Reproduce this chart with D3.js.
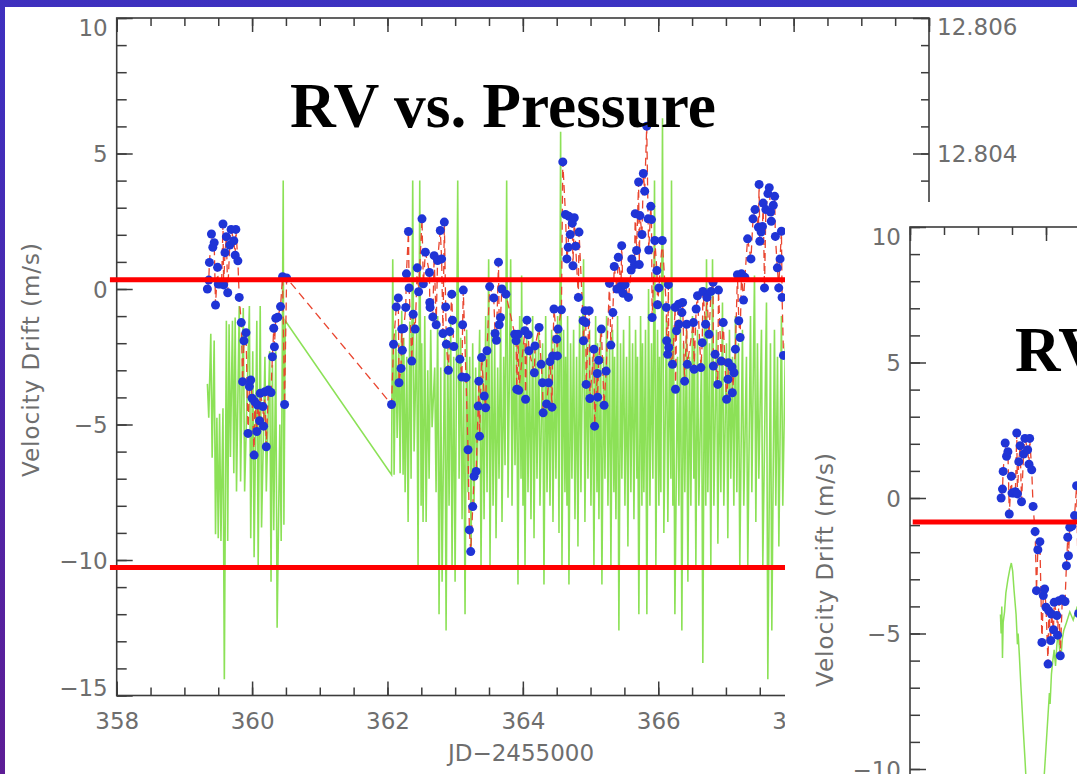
<!DOCTYPE html>
<html>
<head>
<meta charset="utf-8">
<script src="https://cdn.jsdelivr.net/npm/d3@7"></script>
<style>
  html, body { margin: 0; padding: 0; overflow: hidden; background: #3b35c3; }
  svg { display: block; }
</style>
</head>
<body>
<svg id="slide" width="1077" height="774"></svg>
<script>
// ---------------------------------------------------------------
// Radial-velocity drift measurements: [JD-2455000, drift in m/s]
// ---------------------------------------------------------------
const rvDrift = [
  [359.34,0.00],[359.36,0.33],[359.37,0.98],[359.40,2.03],[359.42,1.54],[359.44,1.71],[359.46,-0.59],
  [359.49,0.80],[359.50,0.18],[359.53,0.18],[359.55,0.23],[359.57,2.40],[359.58,0.15],[359.60,1.34],
  [359.62,1.93],[359.64,-0.14],[359.67,1.62],[359.69,2.20],[359.73,1.78],[359.75,1.25],[359.76,2.20],
  [359.79,1.04],[359.81,-0.31],[359.84,-1.24],[359.86,-3.42],[359.88,-1.91],[359.91,-1.61],[359.94,-5.33],
  [359.96,-3.60],[359.98,-3.36],[360.00,-4.03],[360.03,-6.13],[360.04,-4.16],[360.07,-5.26],[360.08,-4.28],
  [360.11,-4.86],[360.12,-3.85],[360.16,-4.34],[360.17,-5.06],[360.19,-3.79],[360.21,-5.82],[360.24,-3.73],
  [360.28,-3.82],[360.30,-2.50],[360.32,-1.45],[360.33,-2.13],[360.35,-1.08],[360.38,-1.04],[360.42,-0.65],
  [360.45,0.45],[360.48,-4.26],[360.51,0.41],
  [362.06,-4.26],[362.09,-2.04],[362.13,-0.66],[362.16,-0.33],[362.17,-3.46],[362.20,-2.93],[362.21,-1.48],
  [362.22,-2.26],[362.24,-1.46],[362.27,-0.68],[362.28,0.56],[362.31,2.12],[362.32,0.04],[362.36,-2.66],
  [362.38,-0.93],[362.41,-1.48],[362.44,0.78],[362.46,-0.10],[362.51,2.59],[362.53,0.19],[362.56,1.36],
  [362.62,0.61],[362.625,-0.50],[362.63,-0.68],[362.67,-1.03],[362.69,1.23],[362.72,-1.32],[362.74,1.05],
  [362.78,2.16],[362.80,1.11],[362.82,-1.64],[362.84,2.47],[362.86,-0.66],[362.87,-2.04],[362.90,-3.00],
  [362.92,-1.57],[362.95,-0.19],[362.96,-1.15],[362.98,-2.12],[363.07,-2.59],[363.10,-3.25],[363.11,-1.32],
  [363.12,-0.04],[363.16,-3.27],[363.19,-5.93],[363.21,-8.89],[363.23,-9.69],[363.26,-8.03],[363.28,-6.91],
  [363.31,-6.73],[363.34,-4.32],[363.35,-3.40],[363.36,-5.43],[363.39,-2.53],[363.43,-3.95],[363.45,-4.38],
  [363.47,-2.28],[363.51,0.09],[363.57,-0.33],[363.59,-1.64],[363.61,-1.89],[363.64,0.99],[363.65,-1.32],
  [363.67,-1.05],[363.69,0.00],[363.75,-0.19],[363.88,-1.67],[363.90,-1.91],[363.91,-3.70],[363.93,-1.67],
  [363.94,-3.74],[364.03,-1.54],[364.04,-4.07],[364.06,-1.15],[364.08,-1.69],[364.09,-2.28],[364.17,-3.09],
  [364.18,-2.10],[364.24,-1.42],[364.27,-2.78],[364.29,-3.46],[364.30,-4.57],[364.35,-4.24],[364.38,-3.46],
  [364.40,-2.68],[364.43,-4.36],[364.44,-2.47],[364.46,-0.74],[364.50,-1.85],[364.51,-2.47],[364.52,-1.48],
  [364.57,-0.77],[364.59,4.69],[364.63,2.75],[364.65,1.11],[364.67,1.54],[364.68,2.68],[364.70,2.01],
  [364.73,2.43],[364.74,0.86],[364.76,2.63],[364.78,1.58],[364.82,-0.31],[364.83,2.10],[364.89,-1.17],
  [364.895,-1.91],[364.92,-0.80],[364.93,-1.24],[364.935,-3.52],[364.98,-0.80],[364.99,-4.04],[365.05,-2.22],
  [365.06,-5.06],[365.10,-3.12],[365.105,-3.99],[365.12,-2.63],[365.16,-1.48],[365.20,-4.29],[365.23,-3.03],
  [365.28,0.21],[365.30,-2.07],[365.33,-0.87],[365.35,0.83],[365.39,0.00],[365.41,1.17],[365.45,0.12],
  [365.46,1.60],[365.48,-0.16],[365.51,0.16],[365.56,-0.31],[365.60,0.70],[365.61,1.11],[365.65,0.90],
  [365.66,2.78],[365.68,1.42],[365.71,3.95],[365.72,0.90],[365.73,2.71],[365.76,2.01],[365.78,4.26],
  [365.80,3.61],[365.83,6.01],[365.85,2.59],[365.86,1.44],[365.89,3.05],[365.90,2.56],[365.91,-1.05],
  [365.95,1.79],[365.98,0.68],[365.99,-0.58],[366.01,0.04],[366.06,1.79],[366.12,-0.68],[366.125,-1.91],
  [366.14,-2.41],[366.15,0.16],[366.155,-2.16],[366.21,-2.78],[366.25,-0.68],[366.255,-3.70],[366.27,-1.54],
  [366.30,-0.56],[366.305,-1.30],[366.35,-0.87],[366.36,-0.50],[366.39,-3.40],[366.42,-1.30],[366.43,-2.78],
  [366.52,-1.24],[366.53,-2.96],[366.56,-0.74],[366.58,-0.25],[366.63,-2.90],[366.65,-1.98],[366.66,-0.09],
  [366.70,-1.30],[366.72,-0.31],[366.75,-1.67],[366.78,-0.09],[366.81,0.25],[366.815,-2.84],[366.84,-2.41],
  [366.88,-3.52],[366.89,-0.04],[366.93,-2.66],[366.96,-1.24],[367.01,-4.07],[367.03,-3.33],[367.035,-2.72],
  [367.09,-2.88],[367.095,-3.83],[367.12,-3.09],[367.14,-2.22],[367.17,0.53],[367.19,-1.17],[367.21,-1.79],
  [367.23,0.56],[367.26,-0.41],[367.28,0.43],[367.32,1.85],[367.37,1.11],[367.40,2.59],[367.43,2.93],
  [367.48,2.28],[367.49,3.86],[367.50,1.76],[367.52,2.10],[367.54,2.31],[367.55,3.17],[367.57,0.04],
  [367.59,2.93],[367.62,3.52],[367.64,3.74],[367.66,2.84],[367.67,2.50],[367.70,3.09],[367.72,3.42],
  [367.73,1.94],[367.76,0.78],[367.78,0.04],[367.80,1.11],[367.82,2.13],[367.83,-0.31],[367.85,-2.45]
];

// ---------------------------------------------------------------
// Spectrograph pressure (mbar) over the same nights: [JD-2455000, mbar]
// ---------------------------------------------------------------
const pressureMbar = [
  [359.34,12.8006],[359.36,12.8001],[359.39,12.80134],[359.41,12.79951],[359.44,12.80124],[359.46,12.79838],
  [359.48,12.8001],[359.50,12.79832],[359.52,12.80016],[359.54,12.79828],[359.57,12.80024],[359.59,12.79624],
  [359.62,12.80153],[359.64,12.79828],[359.66,12.80148],[359.68,12.79952],[359.71,12.80153],[359.73,12.79928],
  [359.75,12.80158],[359.77,12.79901],[359.81,12.80175],[359.83,12.79916],[359.87,12.80172],[359.89,12.79901],
  [359.96,12.80175],[359.98,12.79832],[360.01,12.80108],[360.03,12.79804],[360.07,12.80153],[360.09,12.79792],
  [360.12,12.80175],[360.14,12.79848],[360.19,12.801],[360.21,12.79901],[360.26,12.80108],[360.28,12.79768],
  [360.30,12.80088],[360.32,12.79844],[360.35,12.80108],[360.37,12.797],[360.41,12.8],[360.43,12.79828],
  [360.46,12.8036],[360.47,12.79852],[360.49,12.80153],
  [362.06,12.79926],
  [362.078,12.80244],[362.098,12.79926],[362.123,12.8014],[362.143,12.7998],[362.167,12.8012],[362.187,12.79928],
  [362.211,12.80168],[362.231,12.79926],[362.241,12.80128],[362.261,12.799],[362.285,12.801],[362.305,12.79856],
  [362.329,12.80152],[362.349,12.7992],[362.373,12.8036],[362.393,12.7996],[362.432,12.8014],[362.452,12.79792],
  [362.477,12.8036],[362.497,12.7988],[362.506,12.8012],[362.526,12.79856],[362.551,12.8016],[362.571,12.79856],
  [362.595,12.8008],[362.615,12.7992],[362.639,12.8014],[362.659,12.79996],[362.698,12.80084],[362.718,12.799],
  [362.742,12.8016],[362.762,12.7972],[362.787,12.80084],[362.807,12.79768],[362.846,12.8014],[362.866,12.79696],
  [362.890,12.8012],[362.910,12.7988],[362.934,12.80152],[362.954,12.79792],[362.979,12.801],[362.999,12.79768],
  [363.038,12.8036],[363.058,12.7992],[363.082,12.80128],[363.102,12.7986],[363.126,12.80064],[363.146,12.7972],
  [363.170,12.8014],[363.190,12.799],[363.215,12.801],[363.235,12.79812],[363.259,12.8012],[363.279,12.7988],
  [363.303,12.80084],[363.323,12.7992],[363.362,12.8014],[363.382,12.79792],[363.407,12.801],[363.427,12.7986],
  [363.451,12.8016],[363.471,12.799],[363.495,12.80244],[363.515,12.79792],[363.540,12.8014],[363.560,12.7988],
  [363.584,12.8012],[363.604,12.79832],[363.628,12.80084],[363.648,12.7992],[363.672,12.80152],[363.692,12.79856],
  [363.717,12.801],[363.737,12.7994],[363.761,12.8036],[363.781,12.79892],[363.820,12.80244],[363.840,12.7988],
  [363.864,12.8014],[363.884,12.7994],[363.908,12.8012],[363.928,12.79764],[363.953,12.8016],[363.973,12.7992],
  [363.982,12.8022],[364.002,12.7988],[364.012,12.8012],[364.032,12.79792],[364.056,12.8014],[364.076,12.799],
  [364.100,12.801],[364.120,12.7986],[364.145,12.8016],[364.165,12.79832],[364.189,12.80112],[364.209,12.7992],
  [364.233,12.8014],[364.253,12.7988],[364.292,12.8012],[364.312,12.79764],[364.337,12.8016],[364.357,12.799],
  [364.381,12.801],[364.401,12.7988],[364.425,12.8014],[364.445,12.79856],[364.469,12.8012],[364.489,12.7992],
  [364.514,12.8016],[364.534,12.7984],[364.558,12.80432],[364.578,12.79792],[364.602,12.8014],[364.622,12.799],
  [364.632,12.801],[364.652,12.7988],[364.661,12.8016],[364.681,12.79764],[364.705,12.8012],[364.725,12.7992],
  [364.750,12.8014],[364.770,12.7986],[364.794,12.801],[364.814,12.7982],[364.838,12.8016],[364.858,12.799],
  [364.897,12.80244],[364.917,12.79856],[364.942,12.8012],[364.962,12.7992],[364.986,12.8014],[365.006,12.7988],
  [365.030,12.801],[365.050,12.79792],[365.075,12.8016],[365.095,12.799],[365.104,12.8012],[365.124,12.7986],
  [365.148,12.8014],[365.168,12.79764],[365.193,12.801],[365.213,12.7992],[365.237,12.8016],[365.257,12.7988],
  [365.281,12.8012],[365.301,12.79792],[365.325,12.8014],[365.345,12.799],[365.355,12.801],[365.375,12.7986],
  [365.399,12.8016],[365.419,12.79696],[365.443,12.8012],[365.463,12.7992],[365.488,12.8014],[365.508,12.7988],
  [365.532,12.801],[365.552,12.7982],[365.576,12.8016],[365.596,12.799],[365.621,12.8012],[365.641,12.7986],
  [365.665,12.8014],[365.685,12.7992],[365.694,12.801],[365.714,12.7972],[365.739,12.8016],[365.759,12.7988],
  [365.768,12.8012],[365.788,12.799],[365.812,12.8014],[365.832,12.7972],[365.857,12.802],[365.877,12.7988],
  [365.901,12.8012],[365.921,12.7992],[365.945,12.8036],[365.965,12.79792],[365.990,12.8014],[366.010,12.7988],
  [366.019,12.801],[366.039,12.799],[366.063,12.80452],[366.083,12.7984],[366.122,12.8016],[366.142,12.79856],
  [366.167,12.8012],[366.187,12.7992],[366.196,12.8036],[366.216,12.7988],[366.226,12.8014],[366.246,12.7972],
  [366.285,12.801],[366.305,12.7988],[366.329,12.8016],[366.349,12.79696],[366.373,12.8012],[366.393,12.799],
  [366.418,12.8014],[366.438,12.79768],[366.462,12.801],[366.482,12.7988],[366.506,12.8016],[366.526,12.7992],
  [366.536,12.8012],[366.556,12.79792],[366.580,12.8014],[366.600,12.7988],[366.639,12.801],[366.659,12.79648],
  [366.683,12.8016],[366.703,12.7988],[366.713,12.80244],[366.733,12.799],[366.757,12.8012],[366.777,12.79792],
  [366.802,12.80244],[366.822,12.7988],[366.861,12.8014],[366.881,12.79824],[366.905,12.801],[366.925,12.799],
  [366.949,12.8018],[366.969,12.7988],[367.008,12.8012],[367.028,12.79832],[367.052,12.8014],[367.072,12.7992],
  [367.097,12.801],[367.117,12.7988],[367.141,12.8016],[367.161,12.799],[367.185,12.8012],[367.205,12.79792],
  [367.244,12.8014],[367.264,12.7988],[367.303,12.801],[367.323,12.79792],[367.363,12.8016],[367.383,12.799],
  [367.422,12.8022],[367.442,12.79856],[367.466,12.8012],[367.486,12.7992],[367.525,12.8014],[367.545,12.79792],
  [367.599,12.8018],[367.619,12.79624],[367.658,12.8012],[367.678,12.79696],[367.717,12.8014],[367.737,12.7988],
  [367.762,12.801],[367.782,12.7982],[367.820,12.8016],[367.840,12.7988],[367.879,12.8012],[367.899,12.7992]
];

// Temperature trace of the second panel, scaled to the velocity axis (m/s)
const tempScaled = [
  [359.33,-4.3],[359.34,-5.0],[359.35,-4.0],[359.36,-5.9],[359.37,-4.6],[359.39,-4.2],[359.41,-3.5],
  [359.44,-3.0],[359.47,-2.6],[359.49,-2.4],[359.51,-2.7],[359.53,-3.4],[359.56,-4.3],[359.58,-5.4],
  [359.59,-5.0],[359.61,-5.9],[359.63,-6.9],[359.66,-8.3],[359.69,-9.6],[359.72,-11.0],[359.76,-12.5],
  [359.82,-13.5],[359.88,-13.0],[359.94,-11.5],[359.98,-10.0],[360.01,-8.8],[360.03,-8.0],[360.05,-7.2],
  [360.06,-7.6],[360.08,-6.5],[360.10,-6.0],[360.12,-5.6],[360.14,-6.2],[360.16,-5.4],[360.18,-5.0],
  [360.20,-5.6],[360.22,-5.9],[360.24,-5.2],[360.26,-4.9],[360.30,-4.6],[360.35,-4.2],[360.40,-4.5],[360.46,-4.0]
];

// Reference levels drawn across each panel (m/s)
const pressurePanelLevels = [0.34, -10.28];
const tempPanelLevels = [-0.89];

// Axis tick values
const jdMajor = [358, 360, 362, 364, 366, 368, 370];
const jdMinor = d3.range(358, 370.001, 0.5);
const velMajor = [-15, -10, -5, 0, 5, 10];
const velMinor = d3.range(-15, 10.001, 1);
const mbarMajor = [12.796, 12.798, 12.800, 12.802, 12.804, 12.806];
const mbarMinor = d3.range(12.796, 12.80601, 0.0004);

// ---------------------------------------------------------------
const svg = d3.select("#slide");
const W = 1077, H = 774;

// slide background
const defs = svg.append("defs");
const bg = defs.append("linearGradient").attr("id", "slideBg")
  .attr("x1", "100%").attr("y1", "0%").attr("x2", "0%").attr("y2", "100%");
bg.append("stop").attr("offset", "0%").attr("stop-color", "#3a36c6");
bg.append("stop").attr("offset", "55%").attr("stop-color", "#3f2fbd");
bg.append("stop").attr("offset", "100%").attr("stop-color", "#5d1d95");
svg.append("rect").attr("width", W).attr("height", H).attr("fill", "url(#slideBg)");

const AX = "#3c3c3c", LBL = "#6e6e6e", FONT = "DejaVu Sans, Verdana, sans-serif";

function styleAxis(g) {
  g.select(".domain").remove();
  g.selectAll(".tick line").attr("stroke", AX).attr("stroke-width", 1.5);
  g.selectAll(".tick text").attr("fill", LBL).attr("font-family", FONT).attr("font-size", 23);
  g.attr("font-family", null).attr("font-size", null);
}

// Draws the framed axes of one IDL-style panel
function drawFrame(g, x, y, yRight, opts) {
  const [x0, x1] = x.range();
  const [y1, y0] = y.range();
  g.append("g").attr("transform", `translate(0,${y1})`)
    .call(d3.axisBottom(x).tickValues(jdMinor).tickSize(-8).tickFormat("")).call(styleAxis);
  g.append("g").attr("transform", `translate(0,${y1})`)
    .call(d3.axisBottom(x).tickValues(jdMajor).tickSize(-14).tickPadding(17)
      .tickFormat(opts.bottomLabels ? d3.format("d") : ""))
    .call(styleAxis);
  g.append("g").attr("transform", `translate(0,${y0})`)
    .call(d3.axisTop(x).tickValues(jdMinor).tickSize(-8).tickFormat("")).call(styleAxis);
  g.append("g").attr("transform", `translate(0,${y0})`)
    .call(d3.axisTop(x).tickValues(jdMajor).tickSize(-14).tickFormat("")).call(styleAxis);

  g.append("g").attr("transform", `translate(${x0},0)`)
    .call(d3.axisLeft(y).tickValues(velMinor).tickSize(-10).tickFormat("")).call(styleAxis);
  const left = g.append("g").attr("transform", `translate(${x0},0)`)
    .call(d3.axisLeft(y).tickValues(velMajor).tickSize(-16).tickPadding(9).tickFormat(d3.format("d")))
    .call(styleAxis);
  left.selectAll(".tick text")
    .attr("dy", d => d === 10 ? "0.75em" : d === -15 ? "0.0em" : "0.36em");

  if (yRight) {
    g.append("g").attr("transform", `translate(${x1},0)`)
      .call(d3.axisRight(yRight).tickValues(mbarMinor).tickSize(-8).tickFormat("")).call(styleAxis);
    const right = g.append("g").attr("transform", `translate(${x1},0)`)
      .call(d3.axisRight(yRight).tickValues(mbarMajor).tickSize(-16).tickPadding(8)
        .tickFormat(d3.format(".3f")))
      .call(styleAxis);
    right.selectAll(".tick text")
      .attr("dy", d => Math.abs(d - 12.806) < 1e-9 ? "0.72em" : "0.36em");
  }

  g.append("rect")
    .attr("x", x0).attr("y", y0).attr("width", x1 - x0).attr("height", y1 - y0)
    .attr("fill", "none").attr("stroke", AX).attr("stroke-width", 1.6);
}

function drawRV(g, x, y) {
  g.append("path").datum(rvDrift)
    .attr("d", d3.line().x(d => x(d[0])).y(d => y(d[1])))
    .attr("fill", "none").attr("stroke", "#e9452f").attr("stroke-width", 1.3)
    .attr("stroke-dasharray", "8,5");
  g.append("g").selectAll("circle").data(rvDrift).join("circle")
    .attr("cx", d => x(d[0])).attr("cy", d => y(d[1])).attr("r", 4.5)
    .attr("fill", "#1f34d6");
}

// ================= Panel 1: RV vs. Pressure =================
const p1 = svg.append("g");
p1.append("rect").attr("x", 5).attr("y", 7).attr("width", W - 5).attr("height", H - 7).attr("fill", "#ffffff");

const x1s = d3.scaleLinear().domain([358, 370]).range([116.7, 929]);
const y1s = d3.scaleLinear().domain([-15, 10]).range([695.5, 18]);
const yMbar = d3.scaleLinear().domain([12.796, 12.806]).range([695.5, 18]);

defs.append("clipPath").attr("id", "clip1").append("rect")
  .attr("x", 116.7).attr("y", 18).attr("width", 929 - 116.7).attr("height", 695.5 - 18);

const d1 = p1.append("g").attr("clip-path", "url(#clip1)");
d1.append("path").datum(pressureMbar)
  .attr("d", d3.line().x(d => x1s(d[0])).y(d => yMbar(d[1])))
  .attr("fill", "none").attr("stroke", "#78dc3a").attr("stroke-width", 1.6)
  .attr("stroke-opacity", 0.85).attr("stroke-linejoin", "miter");
drawRV(d1, x1s, y1s);

drawFrame(p1, x1s, y1s, yMbar, { bottomLabels: true });

p1.selectAll("line.level").data(pressurePanelLevels).join("line").attr("class", "level")
  .attr("x1", x1s(357.9)).attr("x2", x1s(370)).attr("y1", d => y1s(d)).attr("y2", d => y1s(d))
  .attr("stroke", "#ff0000").attr("stroke-width", 5);

p1.append("text").attr("x", 521).attr("y", 753).attr("text-anchor", "middle")
  .attr("dominant-baseline", "central").attr("font-family", FONT).attr("font-size", 23)
  .attr("fill", LBL).text("JD\u22122455000");
p1.append("text").attr("transform", "translate(31,360) rotate(-90)").attr("text-anchor", "middle")
  .attr("dominant-baseline", "central").attr("font-family", FONT).attr("font-size", 23)
  .attr("fill", LBL).attr("textLength", 234).attr("lengthAdjust", "spacing")
  .text("Velocity Drift (m/s)");
p1.append("text").attr("x", 290).attr("y", 127)
  .attr("font-family", "Liberation Serif, Times New Roman, serif").attr("font-weight", "bold")
  .attr("font-size", 63).attr("fill", "#000").attr("textLength", 426).attr("lengthAdjust", "spacingAndGlyphs")
  .text("RV vs. Pressure");

// ================= Panel 2: RV vs. Temperature (overlaid) =================
const p2 = svg.append("g");
p2.append("rect").attr("x", 785).attr("y", 202).attr("width", W - 785).attr("height", H - 202).attr("fill", "#ffffff");

const x2s = d3.scaleLinear().domain([358, 370]).range([910, 910 + 12 * 68]);
const y2s = d3.scaleLinear().domain([-15, 10]).range([904.5, 227]);

defs.append("clipPath").attr("id", "clip2").append("rect")
  .attr("x", 910).attr("y", 227).attr("width", W - 910).attr("height", H - 227);

const d2 = p2.append("g").attr("clip-path", "url(#clip2)");
d2.append("path").datum(tempScaled)
  .attr("d", d3.line().x(d => x2s(d[0])).y(d => y2s(d[1])))
  .attr("fill", "none").attr("stroke", "#78dc3a").attr("stroke-width", 1.5).attr("stroke-opacity", 0.85);
drawRV(d2, x2s, y2s);

drawFrame(p2, x2s, y2s, null, { bottomLabels: false });

p2.selectAll("line.level").data(tempPanelLevels).join("line").attr("class", "level")
  .attr("x1", x2s(358.04)).attr("x2", W).attr("y1", d => y2s(d)).attr("y2", d => y2s(d))
  .attr("stroke", "#ff0000").attr("stroke-width", 5);

p2.append("text").attr("transform", "translate(825,570) rotate(-90)").attr("text-anchor", "middle")
  .attr("dominant-baseline", "central").attr("font-family", FONT).attr("font-size", 23)
  .attr("fill", LBL).attr("textLength", 234).attr("lengthAdjust", "spacing")
  .text("Velocity Drift (m/s)");
p2.append("text").attr("x", 1015).attr("y", 371)
  .attr("font-family", "Liberation Serif, Times New Roman, serif").attr("font-weight", "bold")
  .attr("font-size", 63).attr("fill", "#000")
  .text("RV vs. Temperature");
</script>
</body>
</html>
